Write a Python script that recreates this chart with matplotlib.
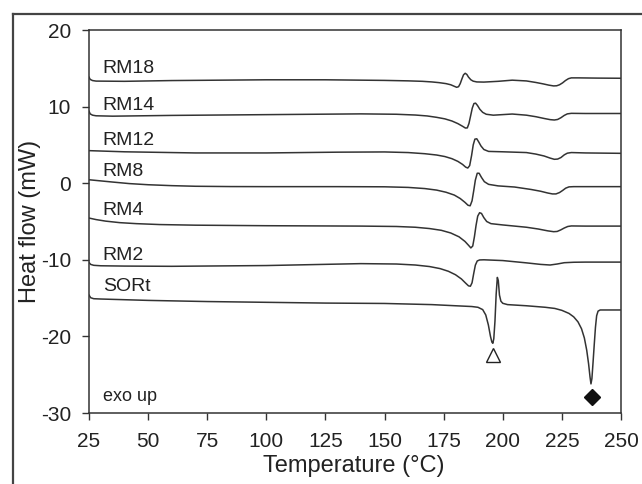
import matplotlib
matplotlib.use("Agg")
import matplotlib.pyplot as plt
from matplotlib.lines import Line2D

plt.rcParams['font.family'] = ['Liberation Sans', 'DejaVu Sans']
plt.rcParams['axes.unicode_minus'] = False

# DSC traces (temperature in degC, heat flow in mW)
t_rm18 = [25, 25.5, 26.5, 28, 40, 60, 80, 100, 125, 150, 160, 166, 170, 173, 176, 178, 179.5, 180.5, 181.3, 182,
          182.7, 183.4, 184.1, 184.8, 185.5, 186.5, 187.5, 189, 192, 198, 204, 210, 214, 217, 219.5, 221.5, 222.8,
          224, 225.3, 226.5, 227.8, 229, 232, 240, 250]
hf_rm18 = [13.85, 13.55, 13.4, 13.33, 13.3, 13.4, 13.45, 13.5, 13.5, 13.42, 13.36, 13.3, 13.22, 13.13, 13.0, 12.85,
           12.65, 12.52, 12.6, 13.0, 13.6, 14.15, 14.35, 14.2, 13.85, 13.5, 13.32, 13.22, 13.2, 13.3, 13.45, 13.35,
           13.15, 12.97, 12.8, 12.7, 12.72, 12.85, 13.1, 13.4, 13.65, 13.75, 13.75, 13.72, 13.7]

t_rm14 = [25, 25.5, 26.5, 28, 35, 60, 100, 140, 155, 163, 168, 172, 175.5, 178.5, 181, 183, 184.2, 185, 185.7,
          186.4, 187.1, 187.8, 188.5, 189.3, 190.3, 191.5, 193, 196, 204, 210, 214, 217.5, 220, 221.8, 223.2, 224.6,
          226, 227.3, 229, 235, 250]
hf_rm14 = [9.4, 9.05, 8.88, 8.8, 8.75, 8.85, 8.95, 9.05, 9.0, 8.9, 8.78, 8.6, 8.4, 8.12, 7.78, 7.43, 7.2, 7.22,
           7.8, 8.8, 9.8, 10.4, 10.45, 10.15, 9.65, 9.25, 9.0, 8.88, 9.03, 8.88, 8.68, 8.45, 8.3, 8.25, 8.32, 8.55,
           8.85, 9.05, 9.12, 9.1, 9.1]

t_rm12 = [25, 40, 70, 100, 130, 150, 160, 167, 172, 175.5, 178.5, 181, 183, 184.3, 185.2, 186, 186.8, 187.5, 188.2,
          189, 189.8, 190.8, 192, 194, 200, 210, 214, 217.5, 220, 221.8, 223.2, 224.6, 226, 227.3, 229, 235, 250]
hf_rm12 = [4.25, 4.1, 3.95, 3.95, 4.05, 4.08, 4.0, 3.85, 3.68, 3.48, 3.2, 2.85, 2.45, 2.1, 1.98, 2.3, 3.6, 5.0,
           5.75, 5.8, 5.4, 4.85, 4.4, 4.15, 4.1, 4.0, 3.8, 3.55, 3.28, 3.12, 3.15, 3.35, 3.7, 3.92, 4.0, 3.95, 3.9]

t_rm8 = [25, 30, 35, 42, 50, 60, 70, 85, 100, 130, 150, 160, 167, 172, 176, 179.5, 182, 184, 185.3, 186.2, 187,
         187.7, 188.4, 189.2, 190, 191, 192.2, 194, 198, 205, 212, 216, 219, 221, 222.5, 224, 225.3, 226.6, 228,
         230, 240, 250]
hf_rm8 = [0.45, 0.3, 0.15, -0.05, -0.2, -0.32, -0.4, -0.44, -0.45, -0.45, -0.47, -0.55, -0.7, -0.9, -1.18, -1.55,
          -2.0, -2.5, -2.88, -2.95, -2.3, -1.0, 0.4, 1.3, 1.3, 0.75, 0.2, -0.15, -0.35, -0.5, -0.82, -1.05, -1.28,
          -1.4, -1.4, -1.22, -0.95, -0.65, -0.48, -0.45, -0.45, -0.45]

t_rm4 = [25, 28, 32, 38, 45, 55, 70, 100, 140, 155, 163, 169, 174, 178, 181.5, 184, 185.5, 186.5, 187.3, 188,
         188.7, 189.4, 190.2, 191, 192, 193.2, 195, 200, 210, 215, 219, 221.5, 223, 224.5, 226, 227.5, 229, 235, 250]
hf_rm4 = [-4.55, -4.75, -4.95, -5.15, -5.28, -5.4, -5.48, -5.55, -5.6, -5.65, -5.75, -5.92, -6.15, -6.5, -7.0,
          -7.6, -8.1, -8.45, -8.2, -7.0, -5.5, -4.3, -3.85, -3.95, -4.5, -5.0, -5.28, -5.45, -5.75, -5.98, -6.22,
          -6.33, -6.3, -6.1, -5.85, -5.65, -5.58, -5.6, -5.6]

t_rm2 = [25, 25.7, 27, 30, 40, 60, 100, 140, 155, 163, 169, 173.5, 177, 180, 182.5, 184.3, 185.5, 186.3, 187,
         187.7, 188.4, 189.2, 190.2, 192, 196, 200, 210, 216, 220, 223, 226, 230, 235, 250]
hf_rm2 = [-10.35, -10.6, -10.72, -10.78, -10.82, -10.85, -10.75, -10.5, -10.55, -10.68, -10.88, -11.15, -11.5,
          -11.95, -12.5, -13.05, -13.4, -13.45, -13.0, -11.8, -10.7, -10.15, -10.02, -10.0, -10.05, -10.1, -10.4,
          -10.6, -10.68, -10.55, -10.38, -10.32, -10.3, -10.3]

t_sort = [25, 25.7, 27, 30, 50, 75, 100, 125, 150, 170, 180, 186.9, 189.5, 191.5, 192.8, 193.9, 194.8, 195.4, 195.8,
          196.2, 196.7, 197.2, 197.7, 198.1, 198.6, 199.2, 200, 202, 210, 218, 222, 225, 228, 230, 231.8, 233.3,
          234.5, 235.5, 236.3, 236.9, 237.3, 237.7, 238.2, 238.7, 239.2, 239.7, 240.3, 241.2, 245, 250]
hf_sort = [-14.6, -14.95, -15.08, -15.12, -15.3, -15.45, -15.55, -15.65, -15.7, -15.85, -16.0, -16.1, -16.2, -16.5,
           -17.2, -18.5, -20.0, -20.75, -20.9, -20.3, -18.0, -14.5, -12.3, -12.7, -14.6, -15.4, -15.68, -15.85,
           -16.0, -16.2, -16.35, -16.6, -17.0, -17.45, -18.1, -19.0, -20.2, -21.8, -23.6, -25.3, -26.2, -25.5,
           -23.3, -21.0, -18.8, -17.3, -16.7, -16.55, -16.55, -16.55]

curves = [(t_rm18, hf_rm18), (t_rm14, hf_rm14), (t_rm12, hf_rm12), (t_rm8, hf_rm8),
          (t_rm4, hf_rm4), (t_rm2, hf_rm2), (t_sort, hf_sort)]

labels = ["RM18", "RM14", "RM12", "RM8", "RM4", "RM2", "SORt"]
label_y = [15.0, 10.2, 5.6, 1.5, -3.5, -9.4, -13.5]
label_x = 30.8

# peak markers under SORt
tri_t, tri_hf = 196.0, -22.4
dia_t, dia_hf = 237.6, -27.9

line_col = '#333333'

fig = plt.figure(figsize=(6.42, 4.84), dpi=100)
ax = fig.add_axes([89 / 642, 1 - 413 / 484, (621 - 89) / 642, (413 - 30) / 484])

for t, hf in curves:
    ax.plot(t, hf, color=line_col, linewidth=1.1, solid_joinstyle='round')

for lab, y in zip(labels, label_y):
    ax.text(label_x, y, lab, fontsize=14, va='center', ha='left', color='#222222')

ax.plot(tri_t, tri_hf, marker='^', markersize=10, markerfacecolor='white',
        markeredgecolor='#222222', markeredgewidth=1.0, linestyle='none')
ax.plot(dia_t, dia_hf, marker='D', markersize=8.5, color='#111111', linestyle='none')

ax.text(label_x, -27.9, "exo up", fontsize=13, va='center', ha='left', color='#222222')

ax.set_xlim(25, 250)
ax.set_ylim(-30, 20)
ax.set_xticks(range(25, 251, 25))
ax.set_yticks(range(-30, 21, 10))
ax.tick_params(direction='out', length=5, width=1, labelsize=15, color=line_col, labelcolor='#222222')
ax.tick_params(axis='x', pad=9)
ax.tick_params(axis='y', pad=8)
for sp in ax.spines.values():
    sp.set_color(line_col)
    sp.set_linewidth(1.1)

ax.set_xlabel("Temperature (°C)", fontsize=17, color='#222222')
ax.set_ylabel("Heat flow (mW)", fontsize=17, color='#222222')
ax.xaxis.set_label_coords((354 - 89) / 532, -(455 - 413) / 383)
ax.yaxis.set_label_coords(-(89 - 41) / 532, 0.5)

# outer frame (left and top edges only)
fx, fy = 12.5 / 642, 1 - 14 / 484
fig.add_artist(Line2D([fx, fx], [0, fy], transform=fig.transFigure, color='#444444', linewidth=1.6))
fig.add_artist(Line2D([fx, 1], [fy, fy], transform=fig.transFigure, color='#444444', linewidth=1.6))

fig.savefig("out.png", dpi=100)
